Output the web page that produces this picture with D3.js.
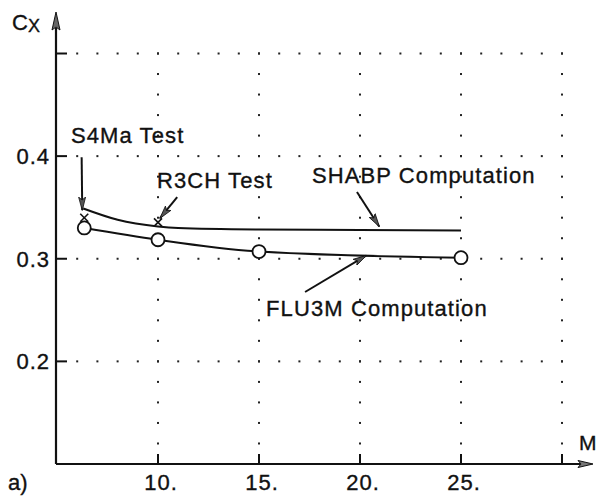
<!DOCTYPE html>
<html>
<head>
<meta charset="utf-8">
<script src="https://cdn.jsdelivr.net/npm/d3@7"></script>
<style>
  html, body { margin: 0; padding: 0; background: #fff; }
  svg text { font-family: "Liberation Sans", Arial, Helvetica, sans-serif; fill: #111; stroke: #111; stroke-width: 0.35px; }
</style>
</head>
<body>
<svg id="chart" width="598" height="497"></svg>
<script>
// FLU3M computation (circles)
var flu3mMach = [6.35, 10, 15, 25];
var flu3mCx = [0.330, 0.3185, 0.307, 0.301];

// SHABP computation (plain line)
var shabpMach = [6.3, 8, 10, 11, 15, 20, 25];
var shabpCx = [0.349, 0.338, 0.3315, 0.330, 0.3285, 0.328, 0.3275];

// test points
var testNames = ["S4Ma", "R3CH"];
var testMach = [6.35, 10];
var testCx = [0.340, 0.3355];

var xTicks = [10, 15, 20, 25, 30];
var xTickLabels = ["10.", "15.", "20.", "25.", ""];
var yTicks = [0.2, 0.3, 0.4, 0.5];
var yTickLabels = ["0.2", "0.3", "0.4", ""];

// annotations: label anchor and arrow (from -> to) in data units
var notes = [
  { text: "S4Ma Test", at: [5.69, 0.413], from: [6.22, 0.399], to: [6.25, 0.3475] },
  { text: "R3CH Test", at: [9.95, 0.369], from: [10.95, 0.360], to: [10.1, 0.3395] },
  { text: "SHABP Computation", at: [17.62, 0.374], from: [19.85, 0.365], to: [20.95, 0.3315] },
  { text: "FLU3M Computation", at: [15.35, 0.244], from: [17.28, 0.2676], to: [20.3, 0.303] }
];

var svg = d3.select("#chart");

var x = d3.scaleLinear().domain([5, 30]).range([57, 562]);
var y = d3.scaleLinear().domain([0.1, 0.5]).range([464, 53.5]);

var defs = svg.append("defs");
defs.append("marker")
  .attr("id", "head")
  .attr("viewBox", "0 0 14 8")
  .attr("refX", 13).attr("refY", 4)
  .attr("markerWidth", 14).attr("markerHeight", 8)
  .attr("markerUnits", "userSpaceOnUse")
  .attr("orient", "auto")
  .append("path")
  .attr("d", "M0,0.5 L13.5,4 L0,7.5 L3,4 Z")
  .attr("fill", "#555").attr("stroke", "#111").attr("stroke-width", 0.8);

// dotted grid
var grid = svg.append("g").attr("fill", "#222");
yTicks.forEach(function (v) {
  d3.range(6, 31).forEach(function (m) {
    grid.append("rect").attr("x", x(m) - 1).attr("y", y(v) - 1)
      .attr("width", 2).attr("height", 2);
  });
});
xTicks.forEach(function (m) {
  d3.range(6, 26).map(function (k) { return k * 0.02; }).forEach(function (v) {
    grid.append("rect").attr("x", x(m) - 1).attr("y", y(v) - 1)
      .attr("width", 2).attr("height", 2);
  });
});

// axes
var axes = svg.append("g").attr("stroke", "#111").attr("fill", "none");
axes.append("line").attr("x1", x(5) - 1).attr("x2", 580)
  .attr("y1", y(0.1)).attr("y2", y(0.1)).attr("stroke-width", 2.2);
axes.append("line").attr("x1", x(5) - 1).attr("x2", x(5) - 1)
  .attr("y1", y(0.1)).attr("y2", 28).attr("stroke-width", 2.2);
axes.append("path")
  .attr("d", "M578," + (y(0.1) - 3.5) + " L593," + y(0.1) + " L578," + (y(0.1) + 3.5) + " L581," + y(0.1) + " Z")
  .attr("fill", "#777").attr("stroke-width", 1);
axes.append("path")
  .attr("d", "M" + (x(5) - 5) + ",30 L" + (x(5) - 1) + ",12 L" + (x(5) + 3) + ",30 L" + (x(5) - 1) + ",27 Z")
  .attr("fill", "#666").attr("stroke-width", 1);

xTicks.forEach(function (m, i) {
  axes.append("line").attr("x1", x(m)).attr("x2", x(m))
    .attr("y1", y(0.1)).attr("y2", y(0.1) - 10).attr("stroke-width", 2);
  svg.append("text").attr("x", x(m) + 3).attr("y", 490)
    .attr("text-anchor", "middle").attr("font-size", 22).attr("letter-spacing", "1px")
    .text(xTickLabels[i]);
});
yTicks.forEach(function (v, i) {
  axes.append("line").attr("x1", x(5) - 1).attr("x2", x(5) + 10)
    .attr("y1", y(v)).attr("y2", y(v)).attr("stroke-width", 2);
  svg.append("text").attr("x", 50).attr("y", y(v) + 8)
    .attr("text-anchor", "end").attr("font-size", 22).attr("letter-spacing", "1px")
    .text(yTickLabels[i]);
});

// axis titles
var cx = svg.append("text").attr("x", 12).attr("y", 30).attr("font-size", 22);
cx.append("tspan").text("C");
cx.append("tspan").attr("dy", 2).attr("font-size", 18).text("X");
svg.append("text").attr("x", 579).attr("y", 450).attr("font-size", 21).text("M");
svg.append("text").attr("x", 8).attr("y", 490).attr("font-size", 22).text("a)");

// curves
var line = d3.line()
  .x(function (d) { return x(d[0]); })
  .y(function (d) { return y(d[1]); })
  .curve(d3.curveMonotoneX);

svg.append("path")
  .datum(d3.zip(shabpMach, shabpCx))
  .attr("d", line)
  .attr("fill", "none").attr("stroke", "#111").attr("stroke-width", 2);

svg.append("path")
  .datum(d3.zip(flu3mMach, flu3mCx))
  .attr("d", line)
  .attr("fill", "none").attr("stroke", "#111").attr("stroke-width", 2);

svg.selectAll("circle.flu")
  .data(d3.zip(flu3mMach, flu3mCx))
  .enter().append("circle")
  .attr("class", "flu")
  .attr("cx", function (d) { return x(d[0]); })
  .attr("cy", function (d) { return y(d[1]); })
  .attr("r", 6.5)
  .attr("fill", "#fff").attr("stroke", "#111").attr("stroke-width", 1.8);

// test markers (crosses)
var tests = svg.selectAll("g.test")
  .data(d3.zip(testMach, testCx))
  .enter().append("g")
  .attr("class", "test")
  .attr("transform", function (d) { return "translate(" + x(d[0]) + "," + y(d[1]) + ")"; })
  .attr("stroke", "#111").attr("stroke-width", 1.6);
tests.append("line").attr("x1", -4).attr("y1", -4).attr("x2", 4).attr("y2", 4);
tests.append("line").attr("x1", -4).attr("y1", 4).attr("x2", 4).attr("y2", -4);

// annotations
notes.forEach(function (n) {
  svg.append("line")
    .attr("x1", x(n.from[0])).attr("y1", y(n.from[1]))
    .attr("x2", x(n.to[0])).attr("y2", y(n.to[1]))
    .attr("stroke", "#111").attr("stroke-width", 2)
    .attr("marker-end", "url(#head)");
  svg.append("text")
    .attr("x", x(n.at[0])).attr("y", y(n.at[1]))
    .attr("font-size", 22).attr("letter-spacing", "1.1px")
    .text(n.text);
});
</script>
</body>
</html>
